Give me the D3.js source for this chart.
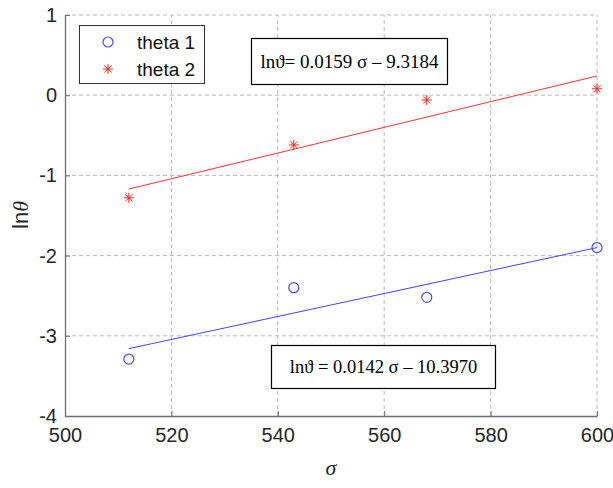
<!DOCTYPE html>
<html><head><meta charset="utf-8">
<script src="https://cdn.jsdelivr.net/npm/d3@7"></script>
<style>body{margin:0;background:#fff}</style>
</head><body>
<svg id="chart" width="613" height="488"></svg>
<script>
const sigma = [512, 543, 568, 600];
const theta1 = [-3.29, -2.40, -2.52, -1.90];
const theta2 = [-1.28, -0.62, -0.06, 0.08];
const fit1 = [[512, -3.16], [600, -1.90]];
const fit2 = [[512, -1.17], [600, 0.24]];
const xTicks = [500, 520, 540, 560, 580, 600];
const yTicks = [-4, -3, -2, -1, 0, 1];
const legendLabels = ["theta 1", "theta 2"];
const eq1 = "ln\u03D1 = 0.0142 \u03C3 \u2013 10.3970";
const eq2 = "ln\u03D1= 0.0159 \u03C3 \u2013 9.3184";

const svg = d3.select("#chart");
const x = d3.scaleLinear().domain([500, 600]).range([65, 597]);
const y = d3.scaleLinear().domain([-4, 1]).range([416, 15]);
const font = "Helvetica, Arial, 'Liberation Sans', sans-serif";
const serif = "'Times New Roman', 'Liberation Serif', serif";

// grid
const g = svg.append("g");
g.selectAll(".gx").data(xTicks.slice(1)).enter().append("line")
  .attr("x1", d => x(d)).attr("x2", d => x(d)).attr("y1", y(-4)).attr("y2", y(1))
  .attr("stroke", "#b8b8b8").attr("stroke-dasharray", "4,3").attr("stroke-width", 1);
g.selectAll(".gy").data(yTicks.slice(1)).enter().append("line")
  .attr("x1", x(500)).attr("x2", x(600)).attr("y1", d => y(d)).attr("y2", d => y(d))
  .attr("stroke", "#b8b8b8").attr("stroke-dasharray", "4,3").attr("stroke-width", 1);

// axes
const xAxis = svg.append("g").attr("transform", `translate(0,${y(-4)})`)
  .call(d3.axisBottom(x).tickValues(xTicks).tickFormat(d => String(d)).tickSizeInner(-5).tickSizeOuter(0).tickPadding(9));
const yAxis = svg.append("g").attr("transform", `translate(${x(500)},0)`)
  .call(d3.axisLeft(y).tickValues(yTicks).tickFormat(d => String(d)).tickSizeInner(-5).tickSizeOuter(0).tickPadding(8));
[xAxis, yAxis].forEach(a => {
  a.select(".domain").attr("stroke", "#6e6e6e").attr("stroke-width", 1.3);
  a.selectAll(".tick line").attr("stroke", "#6e6e6e");
  a.selectAll("text").attr("font-family", font).attr("font-size", 20).attr("fill", "#262626");
});
xAxis.selectAll("text").attr("dy", "0.85em");

// fit lines
const line = d3.line().x(d => x(d[0])).y(d => y(d[1]));
svg.append("path").attr("d", line(fit1)).attr("stroke", "#4040ff").attr("fill", "none").attr("stroke-width", 1);
svg.append("path").attr("d", line(fit2)).attr("stroke", "#ff3030").attr("fill", "none").attr("stroke-width", 1);

// markers
function star(sel, cx, cy, r) {
  const a = r * 0.7071;
  const segs = [[-r,0,r,0],[0,-r,0,r],[-a,-a,a,a],[-a,a,a,-a]];
  segs.forEach(s => sel.append("line").attr("x1", cx+s[0]).attr("y1", cy+s[1]).attr("x2", cx+s[2]).attr("y2", cy+s[3])
    .attr("stroke", "#ff2020").attr("stroke-width", 1));
}
svg.selectAll(".c1").data(sigma).enter().append("circle")
  .attr("cx", d => x(d)).attr("cy", (d, i) => y(theta1[i])).attr("r", 5)
  .attr("fill", "none").attr("stroke", "#4a4aff").attr("stroke-width", 1.2);
const sg = svg.append("g");
sigma.forEach((d, i) => star(sg, x(d), y(theta2[i]), 5));

// legend
svg.append("rect").attr("x", 79.5).attr("y", 25.5).attr("width", 125).attr("height", 58)
  .attr("fill", "#fff").attr("stroke", "#333").attr("stroke-width", 1);
svg.append("circle").attr("cx", 108).attr("cy", 42).attr("r", 5)
  .attr("fill", "none").attr("stroke", "#4a4aff").attr("stroke-width", 1.2);
star(svg, 108, 69, 5);
legendLabels.forEach((t, i) => svg.append("text").attr("x", 137).attr("y", 42 + i * 27)
  .attr("dy", "0.35em").attr("font-family", font).attr("font-size", 19).attr("fill", "#111").text(t));

// equation boxes
svg.append("rect").attr("x", 251.5).attr("y", 38.5).attr("width", 196).attr("height", 46)
  .attr("fill", "#fff").attr("stroke", "#000").attr("stroke-width", 1.2);
svg.append("text").attr("x", 349.5).attr("y", 61).attr("dy", "0.35em").attr("text-anchor", "middle")
  .attr("font-family", serif).attr("font-size", 19).text(eq2);
svg.append("rect").attr("x", 271.5).attr("y", 345.5).attr("width", 224).attr("height", 43)
  .attr("fill", "#fff").attr("stroke", "#000").attr("stroke-width", 1.2);
svg.append("text").attr("x", 383.5).attr("y", 367).attr("dy", "0.35em").attr("text-anchor", "middle")
  .attr("font-family", serif).attr("font-size", 18.5).text(eq1);

// axis labels
const yl = svg.append("text").attr("transform", "translate(28,215) rotate(-90)").attr("text-anchor", "middle")
  .attr("font-family", font).attr("font-size", 22).attr("fill", "#262626");
yl.append("tspan").text("ln");
yl.append("tspan").attr("font-family", serif).attr("font-style", "italic").text("\u03B8");
svg.append("text").attr("x", 331).attr("y", 475).attr("text-anchor", "middle")
  .attr("font-family", serif).attr("font-style", "italic")
  .attr("font-size", 22).attr("fill", "#262626").text("\u03C3");
</script>
</body></html>
